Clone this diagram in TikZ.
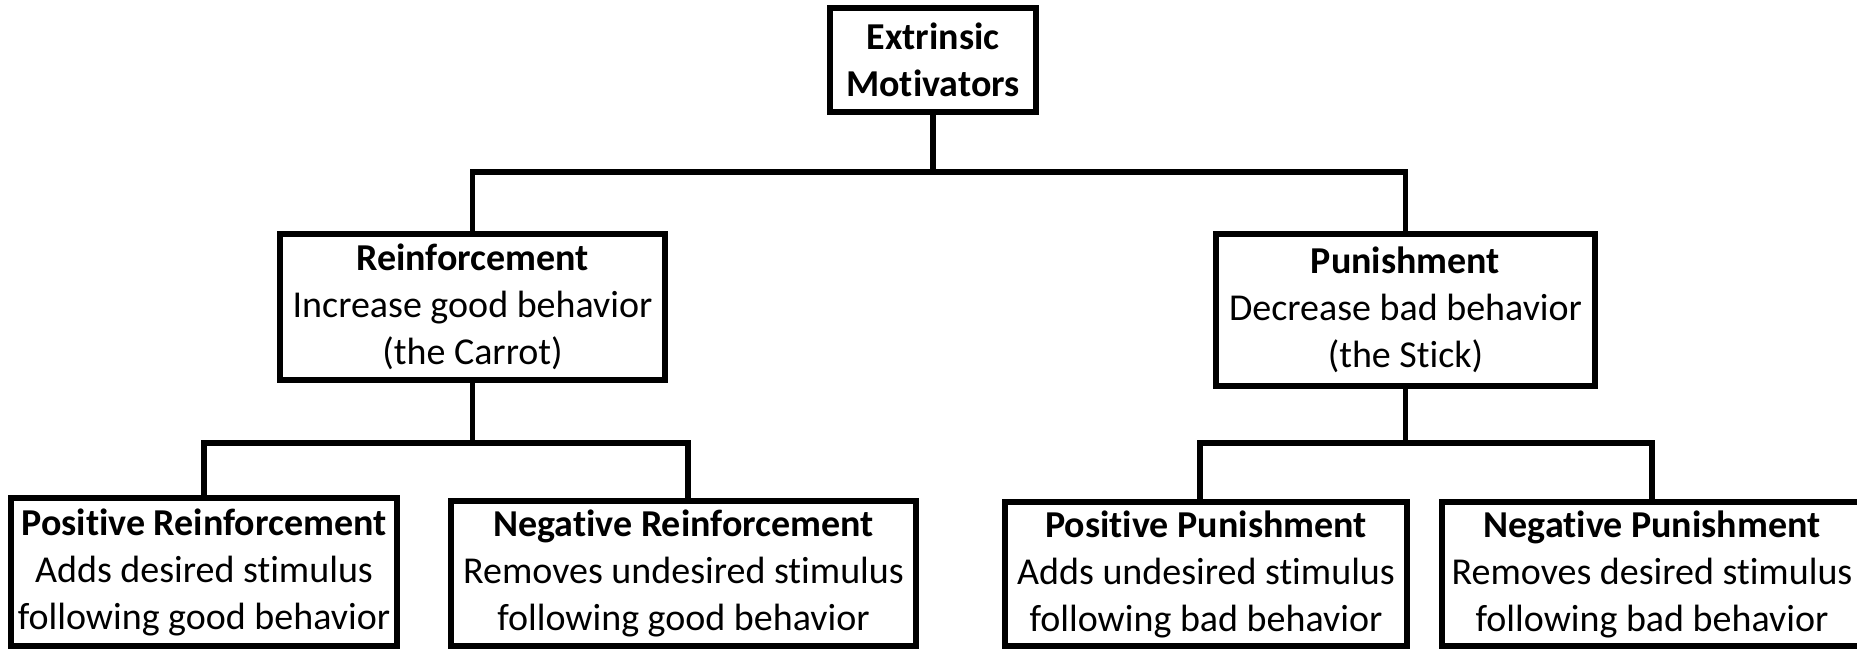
\documentclass[tikz,border=0pt]{standalone}
\usepackage{fontspec}
\setmainfont{Carlito}[Ligatures=NoCommon]
\begin{document}
\begin{tikzpicture}[x=0.5pt,y=-0.5pt,
  box/.style={draw, line width=3pt, inner sep=0pt, align=center,
    font=\fontsize{19}{23.5}\selectfont},
  conn/.style={line width=2.6pt}]
\useasboundingbox (0,0) rectangle (1857,649);
\node[box, minimum width=103pt, minimum height=52pt] (ext) at (933,60)
  {\textbf{Extrinsic}\\\textbf{Motivators}};
\node[box, minimum width=192.5pt, minimum height=73pt] (reinf) at (472.5,307)
  {\textbf{Reinforcement}\\Increase good behavior\\(the Carrot)};
\node[box, minimum width=189.5pt, minimum height=76pt] (pun) at (1405.5,310)
  {\textbf{Punishment}\\Decrease bad behavior\\(the Stick)};
\node[box, minimum width=193pt, minimum height=74pt] (pr) at (204,572)
  {\textbf{Positive Reinforcement}\\Adds desired stimulus\\following good behavior};
\node[box, minimum width=232.5pt, minimum height=72.5pt] (nr) at (683.5,573.5)
  {\textbf{Negative Reinforcement}\\Removes undesired stimulus\\following good behavior};
\node[box, minimum width=201pt, minimum height=72pt] (pp) at (1206,574)
  {\textbf{Positive Punishment}\\Adds undesired stimulus\\following bad behavior};
\node[box, minimum width=210pt, minimum height=72pt] (np) at (1652,574)
  {\textbf{Negative Punishment}\\Removes desired stimulus\\following bad behavior};
\coordinate (j1) at (933,172);
\coordinate (j2) at (472.5,443);
\coordinate (j3) at (1405.5,443);
\coordinate (nrs) at (688,443);
\coordinate (pps) at (1200,443);
\coordinate (nps) at (1652,443);
\draw[conn] (ext.south) -- (j1);
\draw[conn] (reinf.north) |- (j1) -| (pun.north);
\draw[conn] (reinf.south) -- (j2);
\draw[conn] (pr.north) |- (nrs) -- (nrs |- nr.north);
\draw[conn] (pun.south) -- (j3);
\draw[conn] (pps |- pp.north) -- (pps) -- (nps) -- (nps |- np.north);
\end{tikzpicture}
\end{document}
